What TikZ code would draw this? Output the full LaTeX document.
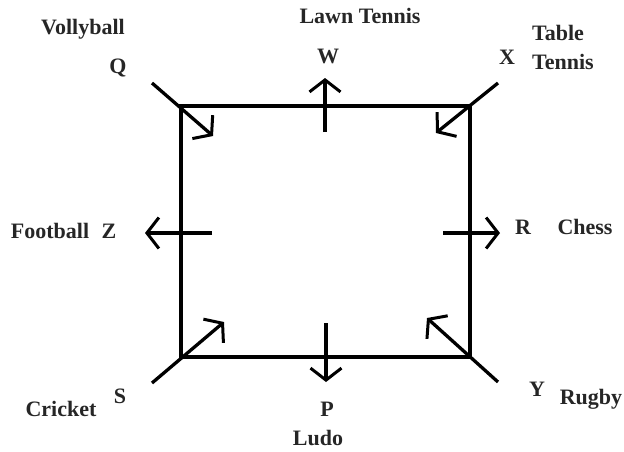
\documentclass[tikz,border=0pt]{standalone}
\usepackage{fontspec}
\setmainfont{Liberation Serif}
\usepackage{tikz}
\usetikzlibrary{arrows.meta,positioning}

\begin{document}
\begin{tikzpicture}[
    x=1pt, y=-1pt,
    label/.style={font=\fontsize{22}{29}\selectfont\bfseries, text=black!85, inner sep=0pt, anchor=mid},
    edge/.style={line width=3.3pt, black},
    pointer/.style={line width=3.3pt, black, -{Straight Barb[length=12pt, width=31pt, line width=3pt]}}
]
\useasboundingbox (0,0) rectangle (624,451);

% Corners of the square
\coordinate (tl) at (181,106);
\coordinate (tr) at (470,106);
\coordinate (br) at (470,357);
\coordinate (bl) at (181,357);

% Arrow ends
\coordinate (qa) at (152,83);  \coordinate (qb) at (213,136);
\coordinate (xa) at (498,83);  \coordinate (xb) at (436,133);
\coordinate (wa) at (325,132); \coordinate (wb) at (325,78);
\coordinate (za) at (212,233); \coordinate (zb) at (145,233);
\coordinate (ra) at (443,233); \coordinate (rb) at (500,233);
\coordinate (sa) at (152,383); \coordinate (sb) at (224,322);
\coordinate (ya) at (498,382); \coordinate (yb) at (427,318);
\coordinate (pa) at (326,323); \coordinate (pb) at (326,382);

% Square
\draw[edge] (tl) -- (tr) -- (br) -- (bl) -- cycle;

% Facing directions
\draw[pointer] (qa) -- (qb);
\draw[pointer] (xa) -- (xb);
\draw[pointer] (wa) -- (wb);
\draw[pointer] (za) -- (zb);
\draw[pointer] (ra) -- (rb);
\draw[pointer] (sa) -- (sb);
\draw[pointer] (ya) -- (yb);
\draw[pointer] (pa) -- (pb);

% Persons and games
\node[label] (vollyball) at (83,32) {Vollyball};
\node[label] (q) at (118,71) {Q};
\node[label] (lawn) at (360,21) {Lawn Tennis};
\node[label] (w) at (328,61) {W};
\node[label] (x) at (507,62) {X};
\node[label, align=left, anchor=west] (table) at (532,47) {Table\\Tennis};
\node[label] (football) at (50,236) {Football};
\node[label] (z) at (109,236) {Z};
\node[label] (r) at (523,232) {R};
\node[label] (chess) at (585,232) {Chess};
\node[label] (s) at (120,401) {S};
\node[label] (cricket) at (61,414) {Cricket};
\node[label] (p) at (327,414) {P};
\node[label] (ludo) at (318,443) {Ludo};
\node[label] (y) at (537,394) {Y};
\node[label] (rugby) at (591,402) {Rugby};

\end{tikzpicture}
\end{document}
